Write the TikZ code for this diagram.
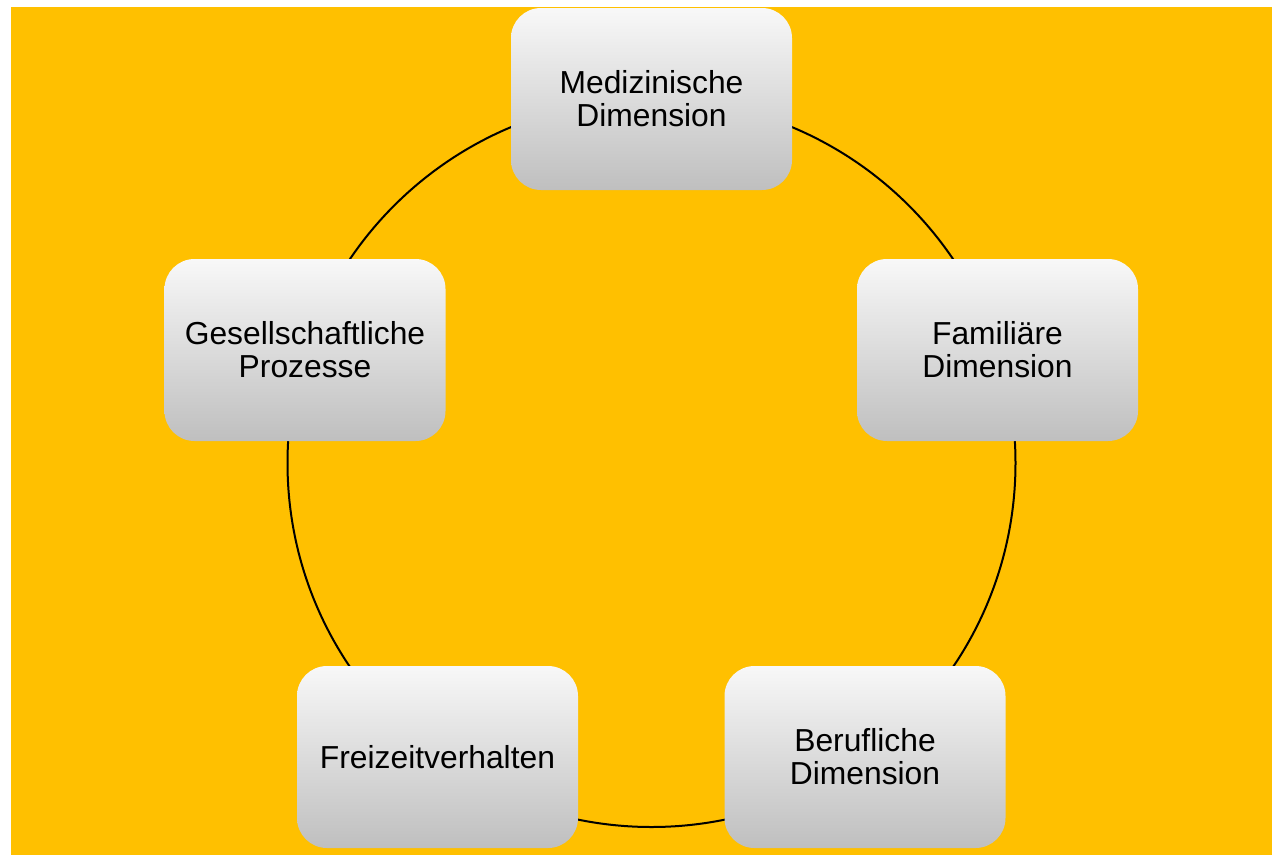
\documentclass[tikz,border=0pt]{standalone}
\usepackage{fontspec}
\setmainfont{Liberation Sans}
\definecolor{bgyellow}{HTML}{FFC000}
\definecolor{boxtop}{HTML}{F8F8F8}
\definecolor{boxbot}{HTML}{BFBFBF}
\begin{document}
\begin{tikzpicture}[x=1pt,y=-1pt,
  dimbox/.style={rounded corners=30pt, top color=boxtop, bottom color=boxbot,
    minimum width=281pt, minimum height=182pt, inner sep=0pt, align=center,
    font=\fontsize{31.8}{33}\selectfont, text=black},
  ring/.style={draw=black, line width=2pt}]
\useasboundingbox (0,0) rectangle (1272,855);
\fill[bgyellow] (11,7) rectangle (1272,855);
\coordinate (c) at (651.5,463);
\draw[ring] (c) circle[radius=364pt];
\node[dimbox] (med) at (651.5,99) {Medizinische\\Dimension};
\node[dimbox] (fam) at (997.5,350) {Familiäre\\Dimension};
\node[dimbox] (ber) at (865,757) {Berufliche\\Dimension};
\node[dimbox] (frei) at (437.5,757) {Freizeitverhalten};
\node[dimbox] (ges) at (305,350) {Gesellschaftliche\\Prozesse};
\end{tikzpicture}
\end{document}
